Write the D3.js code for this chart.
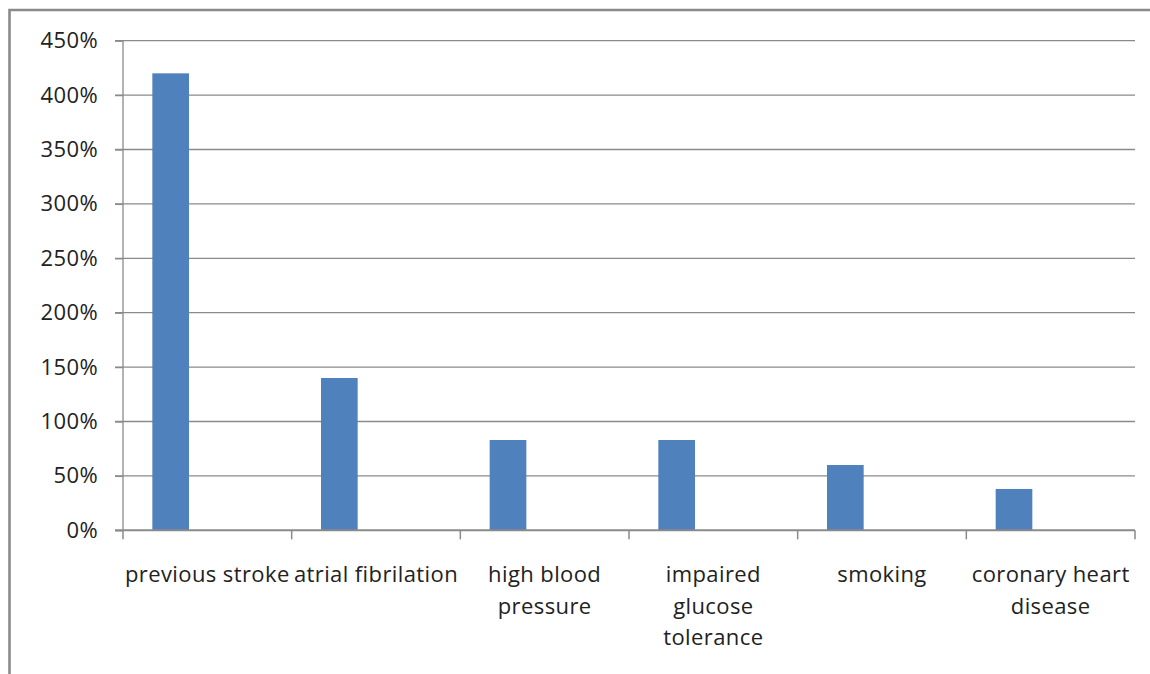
<!DOCTYPE html>
<html>
<head>
<meta charset="utf-8">
<script src="https://cdn.jsdelivr.net/npm/d3@7"></script>
<style>
  html, body { margin: 0; padding: 0; background: #fff; }
  svg { display: block; }
  text { font-family: "Open Sans", Lato, sans-serif; fill: #222; }
</style>
</head>
<body>
<svg id="chart" width="1150" height="674"></svg>
<script>
// ---- data ----
const categories = ["previous stroke", "atrial fibrilation", "high blood pressure", "impaired glucose tolerance", "smoking", "coronary heart disease"];
const categoryLabelLines = [["previous stroke"], ["atrial fibrilation"], ["high blood", "pressure"], ["impaired", "glucose", "tolerance"], ["smoking"], ["coronary heart", "disease"]];
const values = [4.20, 1.40, 0.83, 0.83, 0.60, 0.38];
const seriesSlots = [0, 1, 2];
const yTicks = [0, 0.5, 1, 1.5, 2, 2.5, 3, 3.5, 4, 4.5];

// ---- layout ----
const svg = d3.select("#chart");
const plotLeft = 123, plotRight = 1135, plotTop = 40.7, plotBottom = 530.3;
const fontFam = "'Open Sans', Lato, sans-serif";

// outer frame
svg.append("path")
  .attr("d", `M9.5,674 L9.5,10 L1150,10`)
  .attr("fill", "none").attr("stroke", "#8a8a8a").attr("stroke-width", 2.6);

const x0 = d3.scaleBand().domain(categories).range([plotLeft, plotRight]).paddingInner(0).paddingOuter(0);
const x1 = d3.scaleBand().domain(seriesSlots).range([0, x0.bandwidth()]).paddingInner(0).paddingOuter(0.8);
const y = d3.scaleLinear().domain([0, 4.5]).range([plotBottom, plotTop]);

// gridlines
svg.append("g").selectAll("line").data(yTicks.filter(d => d > 0)).join("line")
  .attr("x1", plotLeft - 8).attr("x2", plotRight)
  .attr("y1", d => y(d)).attr("y2", d => y(d))
  .attr("stroke", "#8a8a8a").attr("stroke-width", 1.3);

// bars
svg.append("g").selectAll("rect").data(values).join("rect")
  .attr("x", (d, i) => x0(categories[i]) + x1(0))
  .attr("width", x1.bandwidth())
  .attr("y", d => y(d))
  .attr("height", d => y(0) - y(d))
  .attr("fill", "#4f81bd");

// y axis
const yAxis = d3.axisLeft(y).tickValues(yTicks).tickFormat(d3.format(".0%")).tickSize(8).tickPadding(17);
const gy = svg.append("g").attr("transform", `translate(${plotLeft},0)`).call(yAxis);
gy.select(".domain").attr("stroke", "#8a8a8a").attr("stroke-width", 1.3).attr("d", `M0,${plotTop}V${plotBottom}`);
gy.selectAll(".tick line").attr("stroke", "#8a8a8a").attr("stroke-width", 1.3);
gy.selectAll(".tick text").style("font-family", fontFam).style("font-size", "22px")
  .style("letter-spacing", "0.4px").attr("fill", "#222");

// x axis
const bounds = categories.map(c => x0(c)).concat([plotRight]);
const gx = svg.append("g");
gx.append("line").attr("x1", plotLeft - 8).attr("x2", plotRight).attr("y1", plotBottom).attr("y2", plotBottom)
  .attr("stroke", "#8a8a8a").attr("stroke-width", 2);
gx.selectAll("line.tk").data(bounds).join("line").attr("class", "tk")
  .attr("x1", d => d).attr("x2", d => d).attr("y1", plotBottom).attr("y2", plotBottom + 9)
  .attr("stroke", "#8a8a8a").attr("stroke-width", 1.5);

const lbl = gx.selectAll("text.cat").data(categories).join("text").attr("class", "cat")
  .attr("text-anchor", "middle")
  .style("font-family", fontFam)
  .style("font-size", "22px")
  .style("letter-spacing", "0.4px");
lbl.each(function(c, i) {
  const t = d3.select(this);
  categoryLabelLines[i].forEach((line, j) => {
    t.append("tspan").attr("x", x0(c) + x0.bandwidth() / 2).attr("y", 582 + j * 31.5).text(line);
  });
});
</script>
</body>
</html>
